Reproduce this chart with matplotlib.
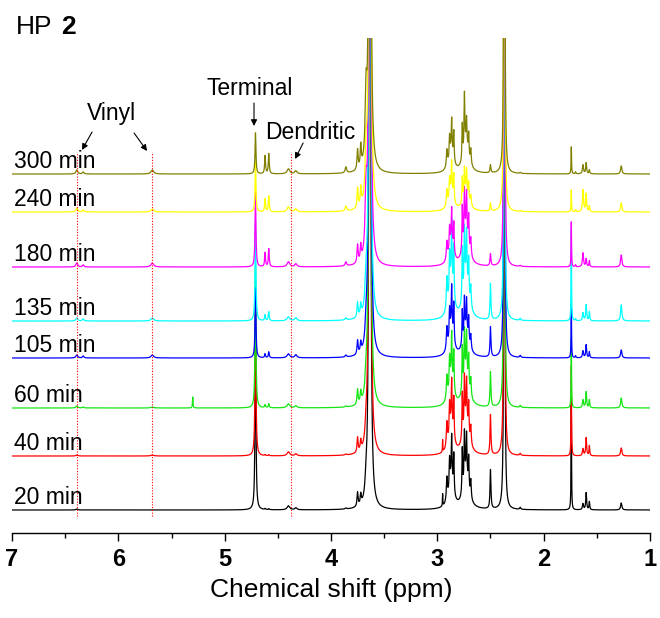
import numpy as np
import matplotlib.pyplot as plt

plt.rcParams['font.family'] = ['Liberation Sans', 'DejaVu Sans']

# sampling times, one trace each (bottom to top)
times = ["20 min", "40 min", "60 min", "105 min", "135 min", "180 min", "240 min", "300 min"]
colors = ["black", "#ff0000", "#14e614", "#0000ff", "#00ffff", "#ff00ff", "#ffff00", "#808000"]
offsets = [23, 77, 125, 175, 212, 266, 321, 359]

# peak table: shift (ppm) and half width (ppm)
peak_ppm = [6.39, 6.33, 5.68, 5.30, 4.71, 4.62, 4.585, 4.40, 4.33, 3.86,
            3.75, 3.72, 3.67, 3.635, 2.95, 2.91, 2.885, 2.865, 2.845, 2.87,
            2.765, 2.745, 2.725, 2.705, 2.685, 2.73, 2.50, 2.37, 2.22, 1.74,
            1.70, 1.63, 1.60, 1.57, 1.27]
peak_hwhm = [0.010, 0.008, 0.015, 0.003, 0.005, 0.005, 0.005, 0.015, 0.012, 0.008,
             0.006, 0.006, 0.010, 0.004, 0.002, 0.006, 0.004, 0.004, 0.004, 0.025,
             0.004, 0.004, 0.004, 0.004, 0.005, 0.030, 0.005, 0.002, 0.006, 0.0025,
             0.004, 0.006, 0.005, 0.004, 0.007]

# peak heights per trace (same order as peak_ppm)
h_20 = [1, 0, 0, 0, 190, 1, 1, 4, 2, 1, 14, 10, 15, 3000, 12, 23, 27, 42, 38, 31,
        44, 48, 40, 31, 18, 35, 39, 3000, 2, 110, 0, 6, 17, 8, 7]
h_40 = [1, 0, 1, 0, 160, 1, 1, 4, 2, 1, 15, 10, 15, 3000, 12, 24, 28, 43, 40, 32,
        45, 49, 40, 31, 18, 36, 40, 3000, 2, 90, 0, 7, 18, 10, 8]
h_60 = [2, 1, 1, 11, 140, 3, 4, 4, 2, 1, 15, 11, 15, 3000, 0, 23, 27, 43, 39, 31,
        44, 48, 40, 31, 18, 35, 35, 3000, 2, 70, 0, 8, 16, 8, 10]
h_105 = [3, 2, 3, 0, 70, 4, 6, 4, 3, 2, 14, 10, 20, 3000, 0, 22, 26, 41, 38, 30,
         34, 37, 31, 24, 14, 27, 30, 3000, 2, 55, 2, 7, 13, 6, 8]
h_135 = [3, 2, 3, 0, 100, 6, 9, 4, 3, 2, 15, 11, 25, 3000, 0, 31, 36, 57, 52, 41,
         52, 57, 47, 36, 21, 42, 36, 3000, 2, 91, 2, 8, 16, 9, 16]
h_180 = [4, 2, 4, 0, 75, 14, 18, 5, 3, 4, 18, 15, 60, 3000, 0, 18, 21, 33, 30, 24,
         44, 48, 39, 30, 17, 35, 12, 3000, 1, 45, 2, 14, 8, 6, 12]
h_240 = [4, 2, 3, 0, 50, 13, 16, 5, 3, 5, 20, 18, 45, 3000, 0, 16, 18, 29, 26, 21,
         25, 27, 22, 17, 10, 20, 8, 3000, 1, 22, 2, 22, 18, 6, 9]
h_300 = [4, 2, 4, 0, 41, 18, 20, 5, 3, 6, 20, 22, 65, 3000, 0, 17, 20, 31, 29, 23,
         35, 55, 25, 22, 15, 30, 8, 3000, 1, 27, 2, 9, 11, 4, 8]
heights = [h_20, h_40, h_60, h_105, h_135, h_180, h_240, h_300]

ppm = np.arange(1.0, 7.0005, 0.0005)
pos = np.array(peak_ppm)
gam = np.array(peak_hwhm)

fig = plt.figure(figsize=(6.6, 6.18), dpi=100)
ax = fig.add_axes([12 / 660, 85 / 618, 638 / 660, 495 / 618])

for lab, col, off, h in zip(times, colors, offsets, heights):
    amp = np.array(h, dtype=float)
    spec = (amp[:, None] * gam[:, None] ** 2 /
            ((ppm[None, :] - pos[:, None]) ** 2 + gam[:, None] ** 2)).sum(axis=0)
    ax.plot(ppm, spec + off, color=col, lw=0.9)
    ax.text(6.98, off + 6, lab, fontsize=16.5, va='baseline', ha='left')

# reference lines
for x in [6.39, 5.68, 4.38]:
    ax.plot([x, x], [17, 381], color='red', ls=(0, (1, 1.5)), lw=0.8)

# annotations
ax.text(6.06, 413, "Vinyl", fontsize=16.5, ha='center', va='baseline')
ax.text(4.76, 438, "Terminal", fontsize=16.5, ha='center', va='baseline')
ax.text(4.62, 394, "Dendritic", fontsize=16.5, ha='left', va='baseline')
arr = dict(arrowstyle='-|>', lw=0.8, color='black', mutation_scale=9, shrinkA=0, shrinkB=0)
ax.annotate('', xy=(6.342, 383), xytext=(6.247, 401), arrowprops=arr)
ax.annotate('', xy=(5.73, 382), xytext=(5.852, 400), arrowprops=arr)
ax.annotate('', xy=(4.724, 407), xytext=(4.724, 430), arrowprops=arr)
ax.annotate('', xy=(4.338, 374), xytext=(4.262, 390), arrowprops=arr)

fig.text(16 / 660, 1 - 34 / 618, "HP", fontsize=19, va='baseline', ha='left')
fig.text(61 / 660, 1 - 34 / 618, "2", fontsize=19, fontweight='bold', va='baseline', ha='left')

ax.set_xlim(7, 1)
ax.set_ylim(0, 495)
ax.set_yticks([])
for s in ['top', 'right', 'left']:
    ax.spines[s].set_visible(False)
ax.spines['bottom'].set_linewidth(1.0)
ax.set_xticks([7, 6, 5, 4, 3, 2, 1])
ax.set_xticks(np.arange(1.5, 7, 1.0), minor=True)
ax.tick_params(axis='x', which='major', direction='out', length=6, width=1.0, pad=5,
               labelsize=17)
ax.tick_params(axis='x', which='minor', direction='out', length=3.5, width=1.0)
for t in ax.get_xticklabels():
    t.set_fontweight('bold')
ax.set_xlabel("Chemical shift (ppm)", fontsize=19, labelpad=5)

fig.savefig("out.png", dpi=100)
